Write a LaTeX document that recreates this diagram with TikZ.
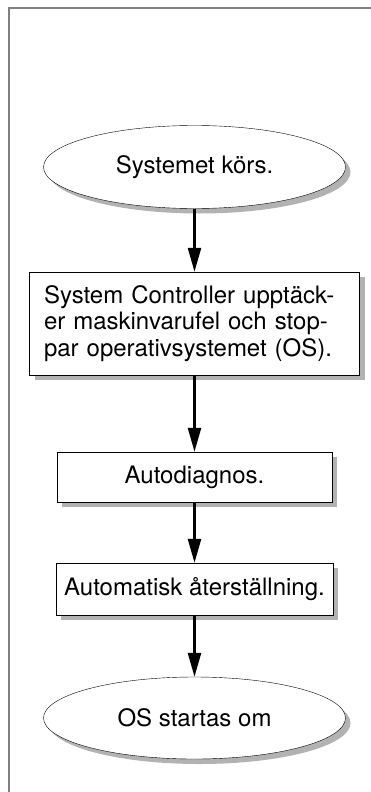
\documentclass[tikz,border=0pt]{standalone}
\usepackage{fontspec}
\setmainfont{TeX Gyre Heros}
\usetikzlibrary{shapes.geometric, shadows, arrows.meta}

\begin{document}
\begin{tikzpicture}[
  x=1pt, y=-1pt,
  every node/.style={draw, fill=white, font=\fontsize{24}{26.5}\selectfont,
    drop shadow={shadow xshift=5pt, shadow yshift=-5pt, fill=gray!60, opacity=1}},
  oval/.style={ellipse, inner sep=0pt, minimum width=302pt, minimum height=83pt},
  box/.style={rectangle, inner sep=0pt},
  flow/.style={line width=2.5pt, -{Triangle[length=24pt, width=13pt]}}
]
\useasboundingbox (0,0) rectangle (371,792);
\draw[gray, line width=1.6pt] (9,792) -- (9,8) -- (371,8);

\node[oval] (start) at (194.5,167) {Systemet körs.};
\node[box, text width=301pt, inner xsep=14.5pt, minimum height=103pt, align=left] (ctrl) at (194.5,323.5)
  {\makebox[301pt][s]{System Controller upptäck-}\\
   \makebox[301pt][s]{er maskinvarufel och stop-}\\
   par operativsystemet (OS).};
\node[box, minimum width=275pt, minimum height=50pt] (diag) at (194.5,477) {Autodiagnos.};
\node[box, minimum width=277pt, minimum height=52pt] (reset) at (194.5,589) {Automatisk återställning.};
\node[oval, minimum height=82pt] (restart) at (194.5,718) {OS startas om};

\draw[flow] (start) -- (ctrl);
\draw[flow] (ctrl) -- (diag);
\draw[flow] (diag) -- (reset);
\draw[flow] (reset) -- (restart);
\end{tikzpicture}
\end{document}
